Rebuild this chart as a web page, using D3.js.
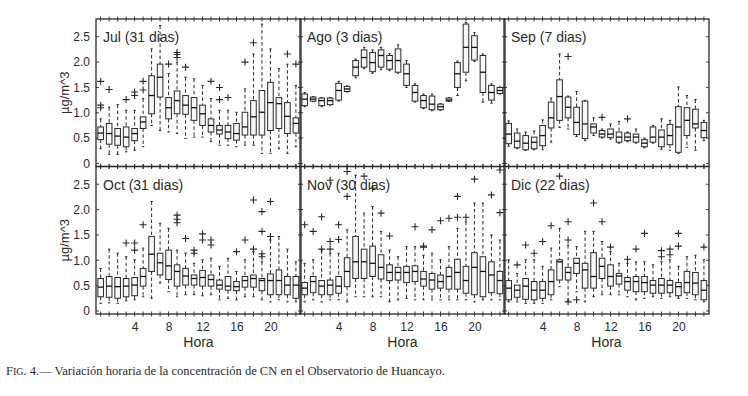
<!DOCTYPE html>
<html>
<head>
<meta charset="utf-8">
<script src="https://cdn.jsdelivr.net/npm/d3@7"></script>
<style>
  body { margin: 0; background: #fff; }
  svg text { font-family: "Liberation Sans", Arial, sans-serif; fill: #2a2a2a; }
</style>
</head>
<body>
<svg id="chart" width="748" height="396"></svg>
<script>
// Hourly boxplots of CN concentration, Huancayo

var width = 748,
    height = 396;

var hours = d3.range(24);
var hourLabels = [4, 8, 12, 16, 20];
var yTicks = [0, 0.5, 1.0, 1.5, 2.0, 2.5];
var titles = ["Jul (31 dias)", "Ago (3 dias)", "Sep (7 dias)", "Oct (31 dias)", "Nov (30 dias)", "Dic (22 dias)"];

// each row: [whisker low, q1, median, q3, whisker high], hour 0..23
var jul = [
  [0.29,0.47,0.60,0.72,0.88],[0.18,0.38,0.59,0.79,1.11],[0.18,0.36,0.54,0.69,1.16],[0.23,0.33,0.52,0.72,1.05],
  [0.26,0.45,0.59,0.69,1.05],[0.33,0.69,0.82,0.92,1.28],[0.75,0.98,1.34,1.73,2.26],[0.65,1.31,1.70,1.96,2.72],
  [0.62,0.88,1.10,1.30,1.77],[0.59,0.98,1.24,1.43,2.00],[0.49,0.97,1.15,1.34,1.70],[0.52,0.85,1.10,1.30,1.67],
  [0.52,0.75,0.98,1.15,1.54],[0.43,0.62,0.75,0.88,1.28],[0.36,0.58,0.66,0.75,1.05],[0.36,0.49,0.62,0.75,1.05],
  [0.33,0.46,0.59,0.79,1.01],[0.36,0.56,0.72,1.01,1.47],[0.36,0.56,0.92,1.24,2.16],[0.20,0.56,1.01,1.44,2.75],
  [0.20,0.65,1.20,1.60,2.26],[0.29,0.69,1.18,1.30,1.87],[0.20,0.59,0.93,1.20,1.96],[0.33,0.60,0.79,0.90,1.54]
];
var julOut = [[0,1.62],[0,1.15],[0,1.10],[1,1.46],[3,1.26],[4,1.34],[4,1.41],[5,1.62],[5,1.45],[8,1.96],
  [9,2.19],[9,2.15],[9,2.09],[10,1.90],[13,1.62],[14,1.50],[14,1.26],[15,1.30],[17,2.00],[18,2.38],[22,2.16],[23,1.96]];

var ago = [
  [1.12,1.14,1.27,1.37,1.40],[1.22,1.23,1.27,1.31,1.32],[1.12,1.14,1.24,1.29,1.30],[1.15,1.16,1.24,1.29,1.30],
  [1.23,1.25,1.44,1.58,1.62],[1.41,1.42,1.47,1.52,1.53],[1.69,1.73,1.90,2.03,2.06],[1.87,1.90,2.09,2.24,2.29],
  [1.78,1.81,1.99,2.19,2.24],[1.85,1.90,2.13,2.24,2.29],[1.83,1.86,2.03,2.13,2.17],[1.78,1.80,2.03,2.26,2.34],
  [1.50,1.54,1.77,1.96,2.03],[1.21,1.23,1.40,1.54,1.57],[1.08,1.10,1.24,1.34,1.37],[1.04,1.06,1.17,1.33,1.37],
  [1.05,1.06,1.12,1.17,1.18],[1.22,1.23,1.25,1.29,1.30],[1.34,1.50,1.77,1.99,2.02],[1.63,1.80,2.29,2.75,2.78],
  [2.01,2.04,2.29,2.52,2.58],[1.21,1.40,1.80,2.13,2.16],[1.19,1.25,1.40,1.54,1.57],[1.37,1.38,1.44,1.50,1.51]
];
var agoOut = [];

var sep = [
  [0.34,0.39,0.58,0.79,0.84],[0.29,0.31,0.44,0.60,0.68],[0.26,0.27,0.40,0.55,0.62],[0.27,0.29,0.42,0.52,0.64],
  [0.27,0.35,0.55,0.75,0.86],[0.42,0.70,0.90,1.21,1.29],[0.71,0.85,1.32,1.65,2.16],[0.68,0.90,1.11,1.31,1.33],
  [0.53,0.57,0.81,1.11,1.42],[0.45,0.49,0.78,1.23,1.24],[0.55,0.60,0.72,0.78,0.90],[0.50,0.52,0.58,0.65,0.68],
  [0.48,0.51,0.58,0.68,0.78],[0.40,0.42,0.52,0.62,0.83],[0.43,0.45,0.52,0.60,0.62],[0.40,0.42,0.52,0.58,0.68],
  [0.31,0.33,0.40,0.47,0.50],[0.40,0.42,0.52,0.72,0.75],[0.28,0.33,0.52,0.66,0.88],[0.26,0.37,0.55,0.77,0.85],
  [0.20,0.22,0.72,1.12,1.51],[0.32,0.55,0.85,1.10,1.34],[0.26,0.70,0.78,1.07,1.26],[0.45,0.51,0.65,0.81,0.85]
];
var sepOut = [[7,2.11],[11,0.91],[14,0.88]];

var oct = [
  [0.15,0.28,0.47,0.64,0.84],[0.16,0.27,0.49,0.68,1.22],[0.15,0.25,0.48,0.66,1.14],[0.20,0.28,0.49,0.64,1.07],
  [0.22,0.30,0.51,0.66,1.01],[0.28,0.49,0.68,0.84,1.24],[0.25,0.78,1.12,1.47,2.16],[0.55,0.71,0.95,1.14,1.73],
  [0.38,0.62,0.89,1.20,1.63],[0.28,0.49,0.78,0.91,1.20],[0.32,0.51,0.69,0.84,1.14],[0.32,0.51,0.64,0.71,0.94],
  [0.30,0.49,0.66,0.80,1.01],[0.32,0.49,0.62,0.71,1.04],[0.22,0.43,0.51,0.61,0.88],[0.25,0.41,0.49,0.68,1.04],
  [0.22,0.40,0.48,0.58,0.78],[0.28,0.47,0.60,0.68,1.01],[0.28,0.47,0.64,0.71,1.17],[0.22,0.40,0.60,0.64,0.97],
  [0.18,0.32,0.60,0.73,1.40],[0.22,0.32,0.60,0.81,1.47],[0.18,0.32,0.51,0.68,1.22],[0.18,0.25,0.51,0.68,0.97]
];
var octOut = [[3,1.34],[4,1.34],[4,1.20],[5,1.70],[9,1.89],[9,1.81],[9,1.74],[10,1.43],[11,1.20],[11,1.14],
  [12,1.52],[12,1.40],[13,1.40],[13,1.30],[16,1.17],[17,1.40],[18,2.19],[18,1.22],[19,1.96],[19,1.57],
  [19,1.13],[19,1.07],[20,2.16],[20,1.47]];

var nov = [
  [0.18,0.32,0.45,0.56,0.94],[0.22,0.36,0.58,0.68,1.01],[0.18,0.32,0.49,0.60,1.20],[0.22,0.32,0.51,0.61,1.14],
  [0.22,0.35,0.49,0.68,1.14],[0.18,0.48,0.78,1.05,1.60],[0.28,0.64,0.97,1.47,2.68],[0.28,0.64,0.97,1.22,1.93],
  [0.28,0.68,0.94,1.28,2.06],[0.28,0.63,0.86,1.11,1.57],[0.18,0.60,0.76,0.91,1.20],[0.22,0.61,0.76,0.86,1.07],
  [0.25,0.56,0.76,0.88,1.27],[0.22,0.58,0.78,0.89,1.27],[0.22,0.49,0.63,0.78,1.10],[0.22,0.43,0.61,0.74,1.14],
  [0.22,0.45,0.58,0.71,1.01],[0.22,0.43,0.68,0.86,1.27],[0.22,0.43,0.76,1.02,1.63],[0.22,0.35,0.60,0.88,1.76],
  [0.18,0.32,0.86,1.15,2.13],[0.22,0.28,0.78,1.07,2.13],[0.22,0.36,0.71,0.97,1.50],[0.22,0.34,0.60,0.78,1.40]
];
var novOut = [[0,1.70],[1,1.57],[2,1.86],[2,1.22],[3,1.37],[3,1.22],[3,2.58],[4,1.70],[4,1.41],[5,2.75],
  [5,2.26],[7,2.66],[8,2.42],[9,1.93],[10,1.48],[13,1.66],[14,1.28],[14,1.26],[15,1.60],[16,1.78],
  [17,1.83],[18,2.26],[18,1.85],[19,1.85],[20,2.60],[22,2.29],[23,2.78],[23,1.94]];

var dic = [
  [0.18,0.22,0.45,0.60,1.01],[0.18,0.27,0.41,0.51,0.74],[0.15,0.23,0.49,0.64,1.01],[0.15,0.22,0.41,0.58,1.01],
  [0.15,0.25,0.41,0.58,0.88],[0.22,0.32,0.58,0.81,1.24],[0.48,0.61,0.97,1.01,1.63],[0.20,0.61,0.76,0.86,1.30],
  [0.38,0.74,0.94,1.04,1.27],[0.18,0.45,0.81,0.94,1.57],[0.28,0.45,0.68,1.15,1.57],[0.32,0.64,0.88,1.04,1.37],
  [0.32,0.49,0.68,0.91,1.17],[0.32,0.53,0.69,0.74,0.94],[0.28,0.41,0.58,0.66,0.94],[0.22,0.38,0.58,0.68,0.97],
  [0.25,0.38,0.56,0.68,0.97],[0.28,0.35,0.51,0.60,0.91],[0.25,0.35,0.51,0.64,0.97],[0.28,0.36,0.51,0.60,1.01],
  [0.25,0.30,0.48,0.56,0.88],[0.25,0.36,0.56,0.78,1.07],[0.22,0.32,0.55,0.76,1.10],[0.18,0.22,0.41,0.60,1.01]
];
var dicOut = [[1,0.91],[2,1.30],[3,1.14],[4,1.37],[5,1.68],[6,2.66],[7,1.76],[7,1.40],[7,0.18],[8,0.22],
  [10,2.13],[11,1.76],[12,1.26],[14,1.02],[15,1.22],[16,1.53],[18,1.19],[18,1.07],[19,1.22],[19,1.11],
  [20,1.53],[20,1.28],[23,1.26]];

var boxes = [jul, ago, sep, oct, nov, dic];
var outliers = [julOut, agoOut, sepOut, octOut, novOut, dicOut];

// layout
var pw = 205, ph = 147.5,
    px0 = 96, py0 = 19,
    colStep = 204, rowStep = 147.5,
    boxW = 5.6,
    ink = "#2a2a2a";

var x = d3.scaleLinear().domain([-0.55, 23.6]).range([0, pw]);
var y = d3.scaleLinear().domain([-0.06, 2.85]).range([ph, 0]);

var svg = d3.select("#chart");
svg.append("rect").attr("width", width).attr("height", height).attr("fill", "#fff");

titles.forEach(function(title, i) {
  var col = i % 3, row = Math.floor(i / 3);
  var g = svg.append("g")
      .attr("transform", `translate(${px0 + col*colStep},${py0 + row*rowStep})`);

  // hour ticks crossing top and bottom edge
  [0, ph].forEach(function(yy) {
    g.selectAll(null).data(hours).enter().append("line")
      .attr("x1", d => x(d)).attr("x2", d => x(d))
      .attr("y1", yy - 2.5).attr("y2", yy + 2.5)
      .attr("stroke", ink).attr("stroke-width", 0.9);
  });
  // y ticks, left and right edge, inward
  g.selectAll(null).data(yTicks).enter().append("line")
    .attr("x1", 0).attr("x2", 3).attr("y1", d => y(d)).attr("y2", d => y(d))
    .attr("stroke", ink).attr("stroke-width", 0.9);
  g.selectAll(null).data(yTicks).enter().append("line")
    .attr("x1", pw - 3).attr("x2", pw).attr("y1", d => y(d)).attr("y2", d => y(d))
    .attr("stroke", ink).attr("stroke-width", 0.9);

  if (col === 0) {
    var ya = g.append("g")
      .call(d3.axisLeft(y).tickValues(yTicks).tickSize(0).tickPadding(6)
        .tickFormat(d => d === 0 ? "0" : d3.format(".1f")(d)));
    ya.select(".domain").remove();
    ya.selectAll("text").style("font-size", "12px").attr("fill", ink)
      .style("font-family", "'Liberation Sans', Arial, sans-serif");

    g.append("text")
      .attr("transform", `translate(-27,${ph/2}) rotate(-90)`)
      .attr("text-anchor", "middle")
      .style("font-size", "13px")
      .text("\u00b5g/m^3");
  }

  if (row === 1) {
    var xa = g.append("g")
      .attr("transform", `translate(0,${ph})`)
      .call(d3.axisBottom(x).tickValues(hourLabels).tickSize(0).tickPadding(8));
    xa.select(".domain").remove();
    xa.selectAll("text").style("font-size", "12px").attr("fill", ink)
      .style("font-family", "'Liberation Sans', Arial, sans-serif");

    g.append("text")
      .attr("x", pw / 2).attr("y", ph + 33)
      .attr("text-anchor", "middle")
      .style("font-size", "14px")
      .text("Hora");
  }

  var data = boxes[i];
  var b = g.selectAll(".box").data(data).enter().append("g").attr("class", "box");

  // dashed whiskers
  b.append("line")
    .attr("x1", (d, h) => x(h)).attr("x2", (d, h) => x(h))
    .attr("y1", d => y(d[4])).attr("y2", d => y(d[3]))
    .attr("stroke", ink).attr("stroke-width", 1).attr("stroke-dasharray", "3.5,2.5");
  b.append("line")
    .attr("x1", (d, h) => x(h)).attr("x2", (d, h) => x(h))
    .attr("y1", d => y(d[1])).attr("y2", d => y(d[0]))
    .attr("stroke", ink).attr("stroke-width", 1).attr("stroke-dasharray", "3.5,2.5");
  // whisker ends
  [0, 4].forEach(function(k) {
    b.append("line")
      .attr("x1", (d, h) => x(h) - 1.2).attr("x2", (d, h) => x(h) + 1.2)
      .attr("y1", d => y(d[k])).attr("y2", d => y(d[k]))
      .attr("stroke", ink).attr("stroke-width", 1);
  });
  // box
  b.append("rect")
    .attr("x", (d, h) => x(h) - boxW/2)
    .attr("width", boxW)
    .attr("y", d => y(d[3]))
    .attr("height", d => Math.max(1, y(d[1]) - y(d[3])))
    .attr("fill", "#f7f7f7").attr("stroke", ink).attr("stroke-width", 1);
  // median
  b.append("line")
    .attr("x1", (d, h) => x(h) - boxW/2).attr("x2", (d, h) => x(h) + boxW/2)
    .attr("y1", d => y(d[2])).attr("y2", d => y(d[2]))
    .attr("stroke", "#111").attr("stroke-width", 1.3);

  // outliers as +
  g.selectAll(".out").data(outliers[i]).enter().append("path")
    .attr("d", d => {
      var cx = x(d[0]), cy = y(d[1]);
      return `M${cx-3.5},${cy}H${cx+3.5}M${cx},${cy-3.5}V${cy+3.5}`;
    })
    .attr("stroke", ink).attr("stroke-width", 1.1).attr("fill", "none");

  g.append("text")
    .attr("x", 7).attr("y", 23)
    .style("font-size", "14px")
    .text(title);

  // frame
  g.append("rect")
    .attr("width", pw).attr("height", ph)
    .attr("fill", "none").attr("stroke", ink).attr("stroke-width", 1.3);
});

// caption
var cap = svg.append("text")
    .attr("x", 6).attr("y", 375)
    .attr("textLength", 439)
    .attr("lengthAdjust", "spacingAndGlyphs")
    .style("font-size", "12px")
    .style("font-family", "'Liberation Serif', 'DejaVu Serif', serif")
    .attr("fill", "#111");
cap.append("tspan").text("F");
cap.append("tspan").style("font-size", "9.5px").text("IG");
cap.append("tspan").text(". 4.\u2014 Variación horaria de la concentración de CN en el Observatorio de Huancayo.");
</script>
</body>
</html>
